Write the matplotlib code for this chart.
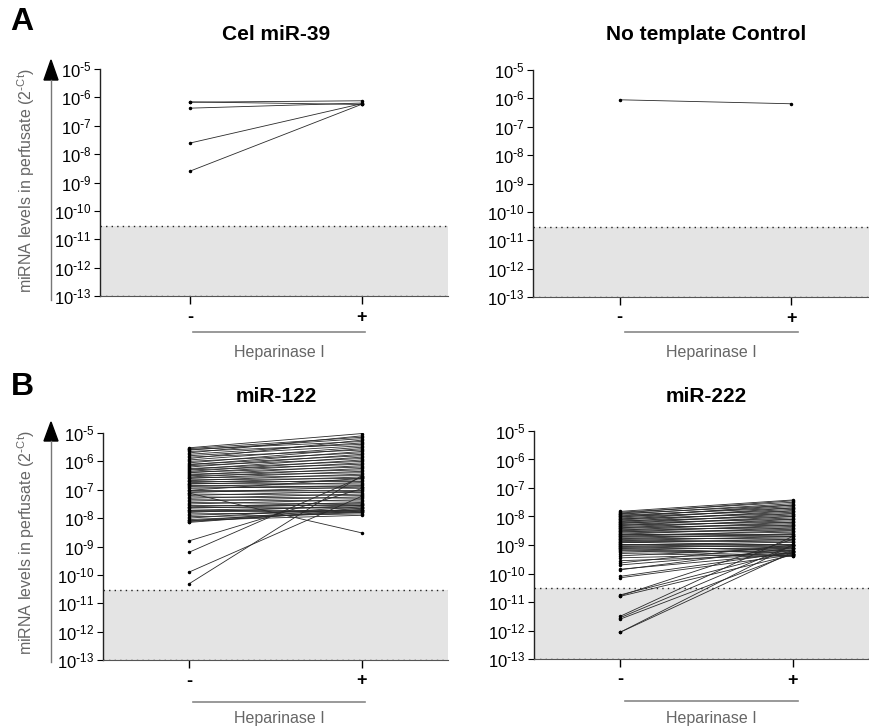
import matplotlib
matplotlib.use("Agg")
import matplotlib.pyplot as plt
from matplotlib.lines import Line2D
from matplotlib.patches import Polygon

plt.rcParams['font.family'] = ['Liberation Sans', 'DejaVu Sans']

# values are log10(2^-Ct)
cel39_minus = [-6.17, -6.16, -6.38, -7.61, -8.60]
cel39_plus = [-6.12, -6.25, -6.20, -6.22, -6.24]

ntc_minus = [-6.05]
ntc_plus = [-6.19]

mir122_minus = [
    -5.52, -5.55, -5.58, -5.60, -5.65, -5.70, -5.75, -5.80, -5.85, -5.90,
    -5.95, -6.00, -6.05, -6.10, -6.12, -6.15, -6.20, -6.25, -6.28, -6.30,
    -6.35, -6.38, -6.40, -6.45, -6.48, -6.50, -6.55, -6.58, -6.60, -6.65,
    -6.68, -6.70, -6.75, -6.78, -6.80, -6.85, -6.88, -6.90, -6.95, -7.00,
    -7.02, -7.05, -7.10, -7.12, -7.15, -7.20, -7.25, -7.30, -7.35, -7.40,
    -7.45, -7.50, -7.55, -7.60, -7.62, -7.65, -7.70, -7.72, -7.75, -7.80,
    -7.85, -7.90, -7.95, -8.00, -8.05, -8.08, -8.10, -8.12, -8.15,
    -8.80, -9.20, -9.90, -10.31,
]
mir122_plus = [
    -5.02, -5.15, -5.30, -5.20, -5.40, -5.10, -5.35, -5.45, -5.60, -5.25,
    -5.50, -5.70, -5.55, -5.80, -5.65, -5.90, -5.75, -6.00, -5.85, -6.10,
    -5.95, -6.20, -6.05, -6.30, -6.15, -6.40, -6.25, -6.50, -6.35, -6.60,
    -6.45, -6.70, -6.55, -6.80, -6.65, -6.90, -6.75, -6.95, -6.85, -7.00,
    -6.60, -7.10, -6.90, -8.52, -7.20, -7.05, -7.30, -7.15, -7.40, -7.25,
    -7.50, -7.35, -7.55, -7.45, -7.65, -7.50, -7.70, -7.60, -7.75, -7.55,
    -7.80, -7.70, -7.85, -7.60, -7.80, -7.90, -7.65, -7.75, -7.70,
    -6.96, -6.55, -7.23, -6.50,
]

mir222_minus = [
    -7.82, -7.85, -7.88, -7.90, -7.92, -7.95, -7.98, -8.00, -8.02, -8.05,
    -8.08, -8.10, -8.12, -8.15, -8.18, -8.20, -8.22, -8.25, -8.28, -8.30,
    -8.32, -8.35, -8.38, -8.40, -8.42, -8.45, -8.48, -8.50, -8.52, -8.55,
    -8.58, -8.60, -8.62, -8.65, -8.68, -8.70, -8.72, -8.75, -8.78, -8.80,
    -8.82, -8.85, -8.88, -8.90, -8.92, -8.95, -8.98, -9.00, -9.03, -9.05,
    -9.08, -9.10, -9.12, -9.15, -9.18, -9.20, -9.25, -9.30, -9.38, -9.45,
    -9.55, -9.63, -9.70, -9.85, -9.87, -10.10, -10.15,
    -10.75, -10.80, -10.78, -11.50, -11.55, -11.60, -12.06, -12.06,
]
mir222_plus = [
    -7.42, -7.50, -7.45, -7.60, -7.55, -7.70, -7.65, -7.80, -7.60, -7.75,
    -7.90, -7.70, -7.85, -8.00, -7.80, -7.95, -8.10, -7.90, -8.05, -8.20,
    -8.00, -8.15, -8.30, -8.10, -8.25, -8.40, -8.20, -8.35, -8.50, -8.30,
    -8.45, -8.60, -8.40, -8.55, -8.70, -8.50, -8.65, -8.80, -8.60, -8.75,
    -8.90, -8.70, -8.85, -9.00, -8.80, -8.95, -9.10, -8.90, -9.05, -9.20,
    -9.00, -9.15, -9.30, -9.10, -9.25, -9.38, -9.20, -9.40, -9.10, -9.30,
    -9.35, -9.00, -9.20, -9.30, -9.10, -9.25, -9.35,
    -9.20, -9.35, -8.80, -8.70, -9.00, -9.30, -9.00, -9.25,
]

decades = list(range(-13, -4))
x_labels = ['-', '+']
threshold = -10.52

W, H = 869, 727


def fx(x):
    return x / W


def fy(y):
    return 1 - y / H


def draw_panel(fig, left, top, right, bottom, xlim, title, title_xy,
               minus, plus, hep):
    ax = fig.add_axes([fx(left), fy(bottom), (right - left) / W, (bottom - top) / H])
    ax.set_yscale('log')
    ax.set_ylim(10.0 ** -13, 10.0 ** -5)
    ax.set_xlim(*xlim)
    ax.axhspan(10.0 ** -13, 10.0 ** threshold, color='#e4e4e4', zorder=0, lw=0)
    ax.axhline(10.0 ** threshold, color='#222222', ls=(0, (1, 3)), lw=1.0, zorder=1)
    ax.axhline(10.0 ** -13, color='#222222', ls=(0, (1, 3)), lw=1.0, zorder=1)

    for m, p in zip(minus, plus):
        ax.plot([0, 1], [10.0 ** m, 10.0 ** p], color='#2a2a2a', lw=0.6,
                marker='o', ms=1.5, mfc='black', mec='black', zorder=3)

    for s in ('top', 'right'):
        ax.spines[s].set_visible(False)
    ax.spines['left'].set_color('#222222')
    ax.spines['left'].set_linewidth(1.0)
    ax.spines['bottom'].set_color('#555555')
    ax.spines['bottom'].set_linewidth(0.8)

    ax.set_yticks([10.0 ** e for e in decades])
    ax.set_yticklabels([r'$\mathregular{10^{\text{-}%d}}$' % -e for e in decades])
    ax.minorticks_off()
    ax.tick_params(axis='y', length=4, width=0.8, labelsize=12, pad=2)
    ax.set_xticks([0, 1])
    ax.set_xticklabels(x_labels, fontweight='bold', fontsize=13)
    ax.tick_params(axis='x', length=6, width=1.0, pad=3)

    fig.text(fx(title_xy[0]), fy(title_xy[1]), title, ha='center', va='center',
             fontsize=15, fontweight='bold')

    x0, x1, yl, yt = hep
    fig.add_artist(Line2D([fx(x0), fx(x1)], [fy(yl), fy(yl)], color='#888888', lw=1.2))
    fig.text(fx((x0 + x1) / 2), fy(yt), 'Heparinase I', ha='center', va='center',
             fontsize=11.5, color='#666666')
    return ax


def draw_ylabel(fig, x, y_top, y_head, y_bottom, y_text):
    fig.add_artist(Line2D([fx(x), fx(x)], [fy(y_bottom), fy(y_head)],
                          color='#777777', lw=1.0))
    tri = Polygon([[fx(x - 7), fy(y_head)], [fx(x + 7), fy(y_head)], [fx(x), fy(y_top)]],
                  closed=True, color='black', transform=fig.transFigure)
    fig.add_artist(tri)
    fig.text(fx(26), fy(y_text), r'miRNA levels in perfusate (2$^{\mathregular{\text{-}Ct}}$)',
             rotation=90, ha='center', va='center', fontsize=11.5, color='#666666')


fig = plt.figure(figsize=(W / 100, H / 100), dpi=100)

draw_panel(fig, 100, 69, 448, 296, (-0.523, 1.5), 'Cel miR-39', (276, 35),
           cel39_minus, cel39_plus, (193, 365, 332, 352))
draw_panel(fig, 533, 70, 869, 297, (-0.506, 1.453), 'No template Control', (706, 35),
           ntc_minus, ntc_plus, (625, 798, 332, 352))
draw_panel(fig, 103, 433, 448, 660, (-0.5, 1.5), 'miR-122', (276, 397),
           mir122_minus, mir122_plus, (193, 365, 702, 718))
draw_panel(fig, 534, 431, 869, 659, (-0.5, 1.442), 'miR-222', (706, 397),
           mir222_minus, mir222_plus, (625, 798, 701, 718))

draw_ylabel(fig, 51, 60, 80, 300, 181)
draw_ylabel(fig, 51, 422, 441, 662, 543)

fig.text(fx(22), fy(22), 'A', ha='center', va='center', fontsize=23, fontweight='bold')
fig.text(fx(22), fy(387), 'B', ha='center', va='center', fontsize=23, fontweight='bold')

fig.savefig('out.png', dpi=100)
